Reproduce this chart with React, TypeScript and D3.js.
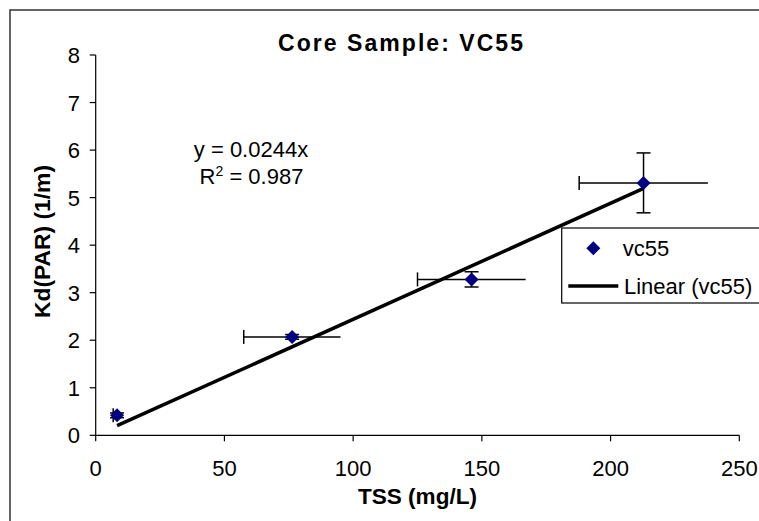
import React from "react";
import * as d3 from "d3";

const tssValues = [8.3, 76.3, 146.0, 212.8];
const kdValues = [0.42, 2.07, 3.28, 5.31];
const tssErrors = [1.5, 18.8, 21.0, 25.0];
const kdErrors = [0.05, 0.05, 0.16, 0.63];
const slope = 0.0244;
const xTicks = [0, 50, 100, 150, 200, 250];
const yTicks = [0, 1, 2, 3, 4, 5, 6, 7, 8];
const titleText = "Core Sample: VC55";
const xTitle = "TSS (mg/L)";
const yTitle = "Kd(PAR) (1/m)";
const seriesName = "vc55";
const trendName = "Linear (vc55)";

const W = 759;
const H = 521;
const FONT = "'Liberation Sans', Arial, sans-serif";

export default function App() {
  const x = d3.scaleLinear().domain([0, 250]).range([95.7, 739.3]);
  const y = d3.scaleLinear().domain([0, 8]).range([435.3, 55]);
  const pts = tssValues.map((v, i) => ({ x: v, y: kdValues[i], ex: tssErrors[i], ey: kdErrors[i] }));
  const xMin = d3.min(tssValues) as number;
  const xMax = d3.max(tssValues) as number;
  const line = d3
    .line<number>()
    .x((d) => x(d))
    .y((d) => y(slope * d));
  const diamond = (cx: number, cy: number, r: number) =>
    `M${cx},${cy - r}L${cx + r},${cy}L${cx},${cy + r}L${cx - r},${cy}Z`;
  const cap = 7;

  return (
    <svg
      width={W}
      height={H}
      style={{ position: "absolute", left: 0, top: 0, background: "#fff" }}
      fontFamily={FONT}
    >
      <rect x={0} y={0} width={W} height={H} fill="#fff" />
      <rect x={10} y={10} width={W} height={H} fill="none" stroke="#333" strokeWidth={1.5} />
      <text x={400.5} y={51} textAnchor="middle" fontSize={23} fontWeight="bold" textLength={245} lengthAdjust="spacing">
        {titleText}
      </text>

      {/* axes */}
      <line x1={x(0)} x2={x(0)} y1={y(8)} y2={y(0)} stroke="#000" strokeWidth={1.2} />
      <line x1={x(0)} x2={x(250)} y1={y(0)} y2={y(0)} stroke="#000" strokeWidth={1.2} />
      {yTicks.map((t) => (
        <g key={"y" + t}>
          <line x1={x(0) - 6} x2={x(0)} y1={y(t)} y2={y(t)} stroke="#000" strokeWidth={1.2} />
          <text x={80} y={y(t) + 8} textAnchor="end" fontSize={22}>
            {t}
          </text>
        </g>
      ))}
      {xTicks.map((t) => (
        <g key={"x" + t}>
          <line x1={x(t)} x2={x(t)} y1={y(0)} y2={y(0) + 6} stroke="#000" strokeWidth={1.2} />
          <text x={x(t)} y={476} textAnchor="middle" fontSize={22}>
            {t}
          </text>
        </g>
      ))}
      <text x={417.5} y={504} textAnchor="middle" fontSize={22} fontWeight="bold" textLength={119} lengthAdjust="spacingAndGlyphs">
        {xTitle}
      </text>
      <text
        transform={`translate(50,241.5) rotate(-90)`}
        textAnchor="middle"
        fontSize={22}
        fontWeight="bold"
        textLength={153}
        lengthAdjust="spacingAndGlyphs"
      >
        {yTitle}
      </text>

      {/* error bars */}
      {pts.map((p, i) => (
        <g key={"e" + i} stroke="#000" strokeWidth={1.5}>
          <line x1={x(p.x - p.ex)} x2={x(p.x + p.ex)} y1={y(p.y)} y2={y(p.y)} />
          <line x1={x(p.x - p.ex)} x2={x(p.x - p.ex)} y1={y(p.y) - cap} y2={y(p.y) + cap} />
          <line x1={x(p.x)} x2={x(p.x)} y1={y(p.y + p.ey)} y2={y(p.y - p.ey)} />
          <line x1={x(p.x) - cap} x2={x(p.x) + cap} y1={y(p.y + p.ey)} y2={y(p.y + p.ey)} />
          <line x1={x(p.x) - cap} x2={x(p.x) + cap} y1={y(p.y - p.ey)} y2={y(p.y - p.ey)} />
        </g>
      ))}

      {/* trendline */}
      <path d={line([xMin, xMax]) || ""} stroke="#000" strokeWidth={3.5} fill="none" />

      {/* points */}
      {pts.map((p, i) => (
        <path key={"p" + i} d={diamond(x(p.x), y(p.y), 7)} fill="#000080" />
      ))}

      {/* equation */}
      <text x={251} y={157} textAnchor="middle" fontSize={22}>
        y = 0.0244x
      </text>
      <text x={251.5} y={184} textAnchor="middle" fontSize={22}>
        R<tspan fontSize={14} dy={-8}>2</tspan>
        <tspan dy={8}> = 0.987</tspan>
      </text>

      {/* legend */}
      <rect x={561.7} y={228} width={220} height={75} fill="#fff" stroke="#000" strokeWidth={1.2} />
      <path d={diamond(593.3, 248.3, 7)} fill="#000080" />
      <text x={622.7} y={256} fontSize={22}>
        {seriesName}
      </text>
      <line x1={568.3} x2={618.3} y1={286} y2={286} stroke="#000" strokeWidth={3.5} />
      <text x={624} y={294} fontSize={22}>
        {trendName}
      </text>
    </svg>
  );
}
